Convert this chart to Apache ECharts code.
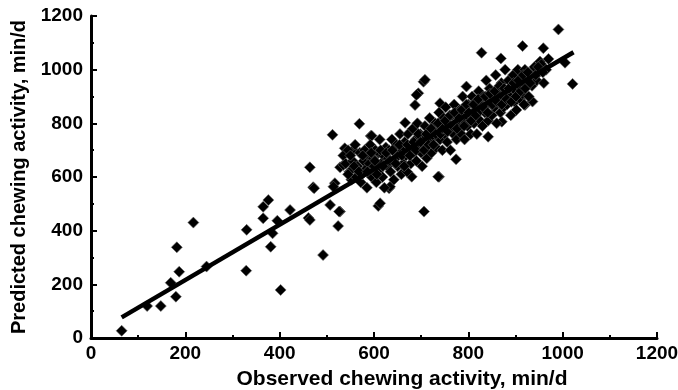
<!DOCTYPE html>
<html>
<head>
<meta charset="utf-8">
<script src="https://cdn.jsdelivr.net/npm/echarts@6/dist/echarts.min.js"></script>
<style>
  html, body { margin: 0; padding: 0; background: #fff; }
  #main { width: 678px; height: 390px; }
</style>
</head>
<body>
<div id="main"></div>
<script>
// observed (x) vs predicted (y), min/d
var observed = [
  65, 119, 148, 169, 180, 187, 182, 217, 245, 329, 330, 402, 381, 385, 365, 365, 376, 395, 422, 461,
  464, 528, 471, 464, 492, 524, 528, 507, 517, 569, 512, 593, 538, 556, 609, 632, 526, 535, 514, 473,
  705, 694, 687, 740, 666, 842, 774, 738, 680, 796, 991, 915, 959, 869, 828, 1021, 1005, 936, 920, 871,
  938, 952, 902, 708, 706, 690, 595, 719, 613, 634, 736,
  535, 540, 545, 548, 552, 555, 560, 562, 565, 570, 572, 575, 578, 580,
  583, 585, 588, 590, 592, 595, 598, 600, 603, 605, 608, 610, 612, 615, 618, 620, 622, 625, 628, 630,
  632, 635, 638, 640, 642, 645, 648, 650, 652, 655, 658, 660, 662, 665, 668, 670, 672, 675, 678, 680,
  682, 685, 688, 690, 692, 695, 698, 700, 702, 705, 708, 710, 712, 715, 718, 720, 722, 725, 728, 730,
  732, 735, 738, 740, 742, 745, 748, 750, 752, 755, 758, 760, 762, 765, 768, 770, 772, 775, 778, 780,
  782, 785, 788, 790, 792, 795, 798, 800, 802, 805, 808, 810, 812, 815, 818, 820, 822, 825, 828, 830,
  832, 835, 838, 840, 842, 845, 848, 850, 852, 855, 858, 860, 862, 865, 868, 870, 872, 875, 878, 880,
  882, 885, 888, 890, 892, 895, 898, 900, 902, 905, 908, 910, 912, 915, 918, 920, 922, 925, 928, 930,
  935, 940, 945, 950, 955, 960, 965, 970,
  545, 550, 558, 568, 576, 586, 594, 602, 606, 614, 619, 626, 634, 639, 646, 654, 659, 664, 671, 676,
  684, 689, 694, 699, 706, 711, 716, 721, 726, 731, 736, 741, 746, 751, 756, 761, 766, 771, 776, 781,
  786, 791, 796, 801, 806, 811, 816, 821, 826, 831, 836, 841, 846, 851, 856, 861, 866, 871, 876, 881,
  886, 891, 896, 901, 906, 911, 916, 921, 926, 931, 943, 948, 958
];
var predicted = [
  27, 119, 119, 206, 154, 247, 338, 430, 266, 251, 403, 179, 340, 390, 446, 489, 514, 437, 477, 447,
  636, 636, 562, 440, 309, 417, 471, 496, 577, 798, 757, 753, 707, 701, 492, 558, 471, 645, 564, 558,
  955, 912, 868, 875, 802, 750, 666, 601, 601, 937, 1150, 1088, 1080, 1042, 1063, 947, 1026, 881, 868, 806,
  999, 1030, 989, 962, 471, 906, 754, 719, 502, 564, 601,
  680, 650, 700, 620, 590, 660, 720, 600, 640, 690, 580, 610, 660, 700,
  630, 560, 680, 650, 720, 600, 670, 640, 700, 580, 620, 690, 740, 650, 600, 680, 560, 710, 640, 670,
  700, 620, 740, 660, 590, 690, 720, 640, 680, 760, 610, 700, 650, 730, 680, 620, 760, 700, 650, 720,
  780, 690, 740, 660, 800, 720, 760, 690, 640, 740, 790, 710, 670, 760, 820, 730, 690, 780, 750, 800,
  710, 770, 840, 740, 790, 700, 820, 760, 860, 730, 800, 780, 700, 830, 760, 870, 800, 740, 820, 790,
  850, 760, 900, 810, 740, 840, 790, 870, 820, 760, 900, 840, 800, 880, 760, 850, 920, 810, 870, 790,
  900, 840, 960, 870, 810, 930, 880, 830, 900, 860, 980, 800, 920, 880, 840, 950, 900, 860, 1000, 920,
  870, 960, 900, 830, 940, 980, 880, 920, 850, 1000, 940, 890, 960, 910, 870, 1000, 940, 960, 900, 980,
  940, 1010, 960, 990, 1020, 950, 1000, 1040,
  610, 680, 640, 620, 680, 620, 690, 660, 610, 700, 640, 690, 660, 700, 650, 720, 680, 640, 720, 680,
  730, 700, 760, 730, 700, 760, 720, 780, 720, 760, 800, 760, 780, 810, 770, 830, 790, 840, 780, 820,
  850, 790, 870, 840, 810, 870, 830, 890, 850, 860, 900, 840, 910, 870, 920, 880, 940, 870, 930, 890,
  930, 880, 950, 900, 960, 920, 980, 930, 990, 950, 980, 1010, 990
];
// regression line end points
var fitX = [65, 1023];
var fitY = [77, 1065];

var xTicks = [0, 200, 400, 600, 800, 1000, 1200];

var points = observed.map(function (x, i) { return [x, predicted[i]]; });
var fitLine = fitX.map(function (x, i) { return [x, fitY[i]]; });

var labelFont = { fontFamily: 'Liberation Sans, Arial, sans-serif', fontWeight: 'bold', fontSize: 19, color: '#000' };
var titleFont = { fontFamily: 'Liberation Sans, Arial, sans-serif', fontWeight: 'bold', fontSize: 20, color: '#000' };

var chart = echarts.init(document.getElementById('main'));
chart.setOption({
  animation: false,
  backgroundColor: '#fff',
  grid: { left: 91, right: 21, top: 16, bottom: 52, outerBoundsMode: 'none' },
  xAxis: {
    type: 'value', min: xTicks[0], max: xTicks[xTicks.length - 1], interval: 200,
    name: 'Observed chewing activity, min/d', nameLocation: 'middle', nameGap: 31,
    nameTextStyle: Object.assign({}, titleFont, { fontSize: 21, padding: [0, 0, 0, 56] }),
    axisLine: { lineStyle: { color: '#000', width: 3 } },
    axisTick: { inside: true, length: 6, lineStyle: { color: '#000', width: 2 } },
    minorTick: { show: true, splitNumber: 2, length: 3, lineStyle: { color: '#000', width: 2 } },
    axisLabel: Object.assign({ margin: 6, formatter: function (v) { return String(v); } }, labelFont),
    splitLine: { show: false }
  },
  yAxis: {
    type: 'value', min: 0, max: 1200, interval: 200,
    name: 'Predicted chewing activity, min/d', nameLocation: 'middle', nameGap: 62,
    nameTextStyle: titleFont,
    axisLine: { show: true, lineStyle: { color: '#000', width: 3 } },
    axisTick: { show: true, inside: true, length: 6, lineStyle: { color: '#000', width: 2 } },
    minorTick: { show: true, splitNumber: 2, length: 3, lineStyle: { color: '#000', width: 2 } },
    axisLabel: Object.assign({ margin: 8, formatter: function (v) { return String(v); } }, labelFont),
    splitLine: { show: false }
  },
  series: [
    {
      type: 'scatter',
      symbol: 'diamond',
      symbolSize: 11,
      itemStyle: { color: '#000', opacity: 1, borderColor: '#666', borderWidth: 0.6 },
      data: points
    },
    {
      type: 'line',
      data: fitLine,
      symbol: 'none',
      lineStyle: { color: '#000', width: 4.5 },
      z: 3
    }
  ]
});
</script>
</body>
</html>
